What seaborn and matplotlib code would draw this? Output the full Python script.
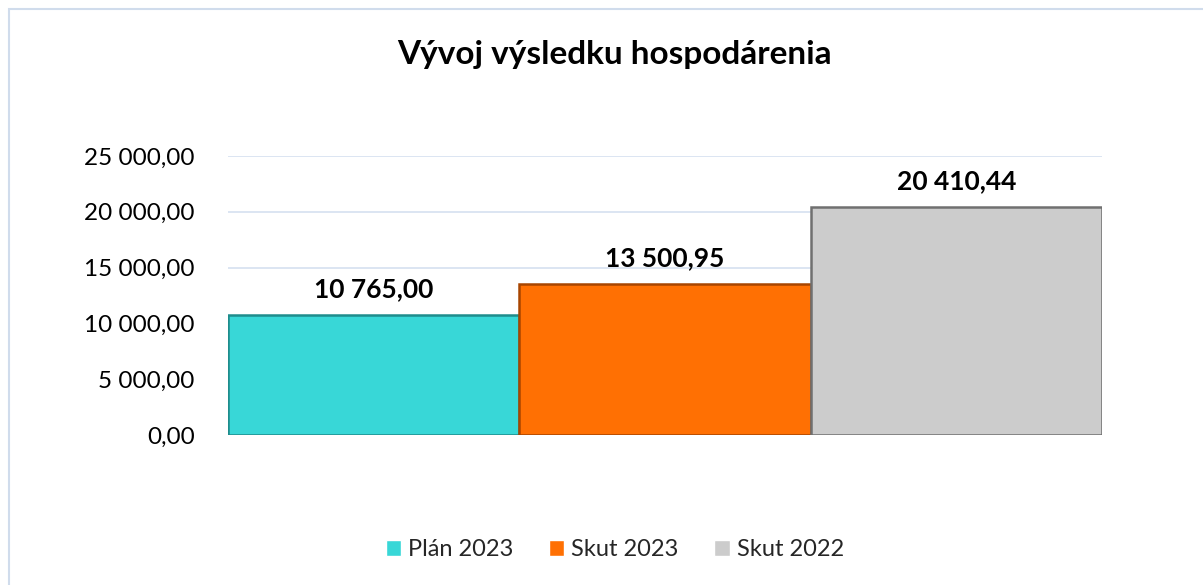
import matplotlib
matplotlib.use("Agg")
import matplotlib.pyplot as plt
import matplotlib.ticker as mticker
from matplotlib.patches import Rectangle
import pandas as pd
import seaborn as sns

SERIES = ["Plán 2023", "Skut 2023", "Skut 2022"]
VALUES = [10765.00, 13500.95, 20410.44]
COLORS = ["#38D7D7", "#FF7003", "#CCCCCC"]
EDGES = ["#1E8C8C", "#A84500", "#707070"]
TITLE = "Vývoj výsledku hospodárenia"


def sk_fmt(v, pos=None):
    s = f"{v:,.2f}"
    return s.replace(",", " ").replace(".", ",")


sns.set_theme(style="white")
plt.rcParams["font.family"] = ["Lato", "DejaVu Sans"]

df = pd.DataFrame({"serie": SERIES, "hodnota": VALUES})

fig = plt.figure(figsize=(12.03, 5.85), dpi=100)
ax = fig.add_axes([0.1895, 0.2564, 0.7265, 0.4769])

sns.barplot(data=df, x="serie", y="hodnota", hue="serie", palette=COLORS,
            width=1.0, dodge=False, legend=True, ax=ax, saturation=1)

for patch, ec in zip(ax.patches, EDGES):
    patch.set_edgecolor(ec)
    patch.set_linewidth(1.8)

for x, v in enumerate(VALUES):
    ax.text(x, v + 1250, sk_fmt(v), ha="center", va="bottom",
            fontsize=19, fontweight="bold", color="#000000")

ax.set_xlim(-0.5, 2.5)
ax.set_ylim(0, 25000)
ax.yaxis.set_major_locator(mticker.MultipleLocator(5000))
ax.yaxis.set_major_formatter(mticker.FuncFormatter(sk_fmt))
ax.tick_params(axis="y", labelsize=17.5, length=0, pad=24, labelcolor="#000000")
ax.set_xticks([])
ax.set_xlabel("")
ax.set_ylabel("")
ax.grid(axis="y", color="#D6E0F0", linewidth=1.2)
ax.set_axisbelow(True)
for s in ax.spines.values():
    s.set_visible(False)

sns.move_legend(ax, "center", bbox_to_anchor=(0.511, 0.06),
                bbox_transform=fig.transFigure, ncol=3, frameon=False,
                title=None, fontsize=17, handlelength=0.65, handleheight=0.65,
                columnspacing=1.5, handletextpad=0.3)

fig.text(0.511, 0.906, TITLE, ha="center", va="center",
         fontsize=24, fontweight="bold", color="#000000")

fig.patches.append(Rectangle((9 / 1203, -0.01), 1.1, 1 - 9 / 585 + 0.01,
                             transform=fig.transFigure, fill=False,
                             edgecolor="#D0DCEC", linewidth=1.5))

fig.savefig("out.png", dpi=100)
